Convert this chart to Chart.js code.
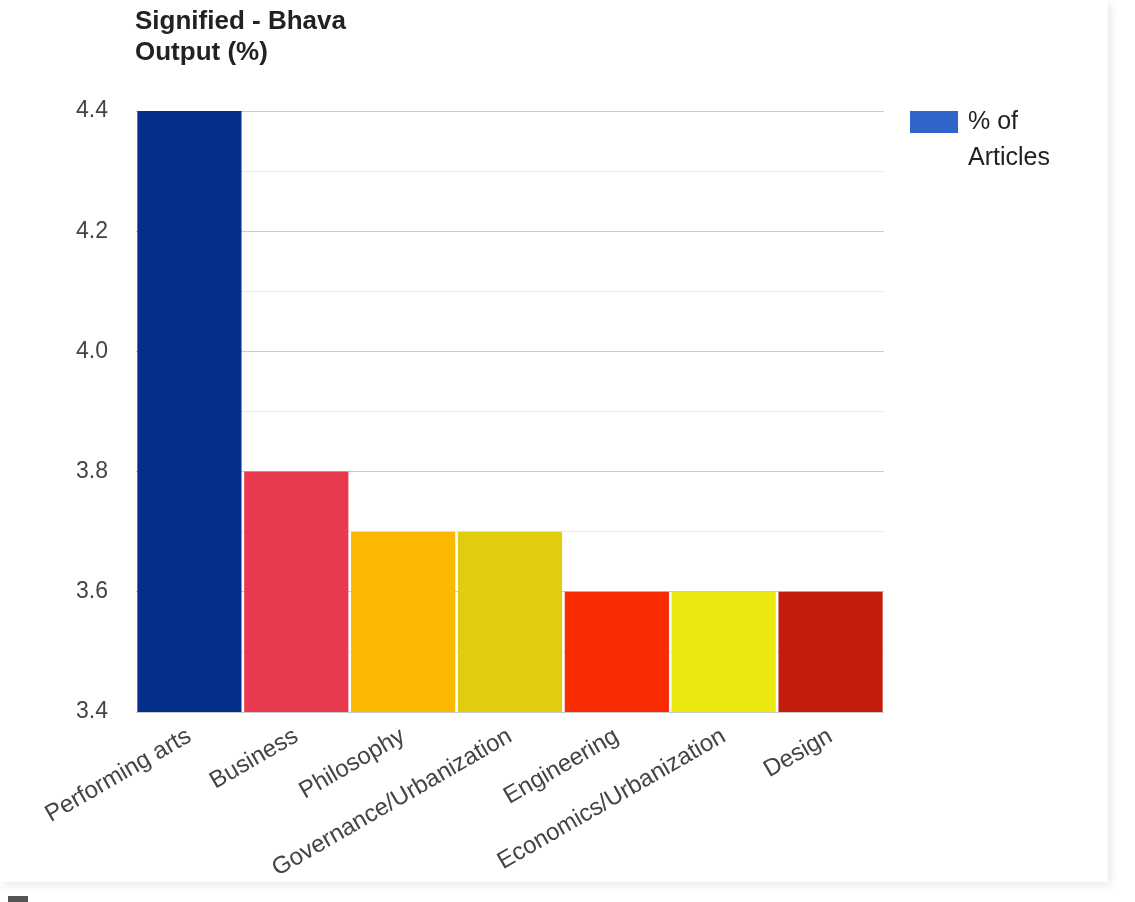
<!DOCTYPE html>
<html>
  <head>
    <title>Signified - Bhava Output (%)</title>
    <script src="https://cdn.jsdelivr.net/npm/chart.js"></script>
    <style>
      html,
      body {
        margin: 0;
        padding: 0;
        background: #fff;
      }
      #panel {
        position: absolute;
        left: 0;
        top: 0;
        width: 1108px;
        height: 882px;
        background: #fff;
        box-shadow: 3px 3px 9px rgba(0, 0, 0, 0.09);
      }
      #corner {
        position: absolute;
        left: 8px;
        top: 896px;
        width: 20px;
        height: 6px;
        background: #555;
      }
      #chartBox {
        position: absolute;
        left: 0;
        top: 0;
        width: 1135px;
        height: 902px;
      }
    </style>
  </head>
  <body>
    <div id="panel"></div>
    <div id="corner"></div>
    <div id="chartBox"><canvas id="myChart"></canvas></div>

    <script>
      // chart data
      const categories = [
        "Performing arts",
        "Business",
        "Philosophy",
        "Governance/Urbanization",
        "Engineering",
        "Economics/Urbanization",
        "Design"
      ];
      const values = [4.4, 3.8, 3.7, 3.7, 3.6, 3.6, 3.6];
      const barColors = [
        "#062f8c",
        "#e8394f",
        "#fbb800",
        "#e1cd0f",
        "#f92b00",
        "#ebe810",
        "#c41c0a"
      ];
      const seriesName = ["% of", "Articles"];
      const titleLines = ["Signified - Bhava", "Output (%)"];
      const yMin = 3.4;
      const yMax = 4.4;

      const FONT = "'Liberation Sans', Arial, sans-serif";

      // title at top-left of plot area and legend on the right
      const titleLegendPlugin = {
        id: "titleLegend",
        afterDraw(chart) {
          const ctx = chart.ctx;
          const area = chart.chartArea;
          ctx.save();
          ctx.fillStyle = "#222";
          ctx.font = "bold 26px " + FONT;
          ctx.textAlign = "left";
          ctx.textBaseline = "middle";
          titleLines.forEach((line, i) => {
            ctx.fillText(line, area.left - 1, 22 + i * 31);
          });

          const bx = area.right + 26;
          const by = area.top;
          ctx.fillStyle = "#3064c8";
          ctx.fillRect(bx, by, 48, 22);
          ctx.fillStyle = "#222";
          ctx.font = "25px " + FONT;
          seriesName.forEach((line, i) => {
            ctx.fillText(line, bx + 58, by + 11 + i * 36);
          });
          ctx.restore();
        }
      };

      const ctx = document.getElementById("myChart").getContext("2d");

      const myChart = new Chart(ctx, {
        type: "bar",
        data: {
          labels: categories,
          datasets: [
            {
              label: seriesName.join(" "),
              data: values,
              backgroundColor: barColors,
              borderWidth: 0,
              barPercentage: 0.975,
              categoryPercentage: 1.0
            }
          ]
        },
        options: {
          responsive: true,
          maintainAspectRatio: false,
          animation: false,
          layout: {
            padding: { top: 111, right: 251, left: 0, bottom: 0 }
          },
          plugins: {
            legend: { display: false },
            title: { display: false },
            tooltip: { enabled: false }
          },
          scales: {
            x: {
              grid: { display: false },
              border: { display: false },
              ticks: {
                autoSkip: false,
                minRotation: 30,
                maxRotation: 30,
                padding: 2,
                color: "#444",
                font: { family: FONT, size: 24 }
              },
              afterFit(scale) {
                scale.height = 190;
              }
            },
            y: {
              min: yMin,
              max: yMax,
              border: { display: false },
              grid: {
                drawTicks: false,
                color: (c) => (c.index % 2 === 0 ? "#cccccc" : "#ebebeb")
              },
              ticks: {
                stepSize: 0.1,
                padding: 28,
                color: "#444",
                font: { family: FONT, size: 23 },
                callback: (v, i) => (i % 2 === 0 ? Number(v).toFixed(1) : "")
              },
              afterFit(scale) {
                scale.width = 136;
              }
            }
          }
        },
        plugins: [titleLegendPlugin]
      });
    </script>
  </body>
</html>
